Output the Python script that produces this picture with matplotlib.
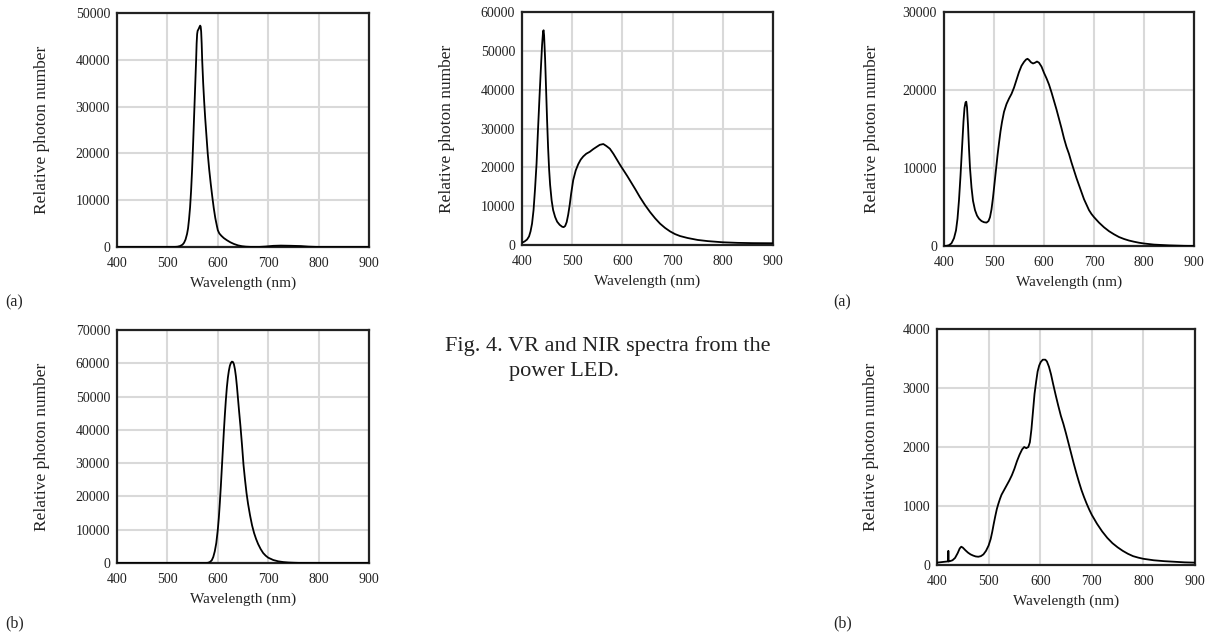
import matplotlib
matplotlib.use("Agg")
import matplotlib.pyplot as plt

plt.rcParams['font.family'] = ['Liberation Serif', 'DejaVu Serif']

# ---- data ----
wl_a1 = [400, 500, 510, 515, 520, 525, 530, 533, 536, 539, 541, 543, 545, 547, 549, 551, 553, 555,
         557, 558, 559, 560, 562, 564, 565, 566, 567, 568, 569, 571, 573, 575, 577, 580, 583, 586,
         589, 592, 595, 598, 600, 603, 607, 612, 618, 625, 632, 640, 648, 656, 665, 680, 695, 710,
         725, 745, 765, 780, 800, 900]
y_a1 = [0, 0, 0, 20, 60, 200, 500, 900, 1600, 2800, 4000, 6000, 8500, 12000, 16500, 22000, 28000,
        34000, 40000, 43500, 45500, 46200, 46600, 47100, 47300, 47100, 46000, 43500, 40000, 35000,
        31000, 27500, 24500, 20000, 16500, 13500, 10800, 8300, 6200, 4600, 3600, 2900, 2400, 1900,
        1450, 1000, 650, 350, 170, 70, 20, 0, 100, 250, 300, 260, 200, 80, 0, 0]

wl_w1 = [400, 405, 410, 414, 417, 420, 423, 426, 429, 432, 435, 438, 440, 442, 443, 444, 446, 448,
         450, 452, 454, 456, 459, 462, 466, 470, 475, 480, 483, 486, 489, 492, 495, 498, 502, 507,
         512, 517, 522, 528, 535, 542, 549, 555, 562, 568, 575, 582, 589, 595, 602, 610, 618, 626,
         635, 645, 655, 665, 675, 685, 695, 705, 715, 730, 750, 770, 800, 830, 860, 900]
y_w1 = [600, 900, 1400, 2200, 3500, 5500, 9000, 14500, 21000, 30000, 38500, 46500, 51500, 55000,
        55300, 54000, 48000, 40000, 32000, 25000, 19500, 15500, 11500, 9000, 7200, 6000, 5200, 4700,
        4600, 4900, 5900, 7800, 10300, 13300, 16700, 19200, 20800, 22000, 22800, 23500, 24000,
        24700, 25300, 25800, 26000, 25500, 24800, 23500, 22000, 20700, 19300, 17700, 16000, 14300,
        12300, 10300, 8500, 6900, 5500, 4400, 3500, 2800, 2300, 1800, 1300, 1000, 700, 550, 480, 450]

wl_w2 = [400, 405, 410, 415, 420, 424, 427, 430, 433, 436, 439, 441, 443, 444.5, 446, 448, 450,
         452, 455, 458, 462, 466, 470, 475, 480, 485, 489, 492, 495, 498, 501, 504, 507, 510, 513,
         516, 520, 525, 530, 535, 540, 545, 550, 555, 560, 564, 567, 570, 574, 578, 582, 586, 590,
         595, 600, 605, 610, 615, 620, 625, 630, 635, 640, 645, 650, 655, 660, 665, 670, 675, 680,
         685, 690, 695, 700, 710, 720, 730, 740, 750, 760, 770, 780, 790, 800, 820, 850, 880, 900]
y_w2 = [0, 20, 100, 350, 1000, 2000, 3500, 5900, 9000, 12500, 16000, 17700, 18400, 18500, 17800,
        15500, 12500, 10000, 7500, 5800, 4600, 3900, 3500, 3200, 3050, 3000, 3200, 3700, 4700, 6200,
        8000, 9800, 11600, 13200, 14700, 15900, 17200, 18200, 18900, 19500, 20300, 21300, 22300,
        23100, 23600, 23900, 24000, 23850, 23550, 23400, 23500, 23650, 23500, 23000, 22200, 21500,
        20700, 19700, 18600, 17500, 16300, 15100, 13800, 12700, 11800, 10700, 9700, 8700, 7800,
        6900, 6000, 5300, 4600, 4100, 3700, 3000, 2400, 1900, 1500, 1150, 900, 700, 550, 420, 320,
        180, 80, 20, 0]

wl_r1 = [400, 575, 580, 584, 588, 591, 594, 597, 600, 602, 604, 606, 608, 610, 612, 614, 616, 618,
         620, 622, 624, 626, 628, 630, 632, 634, 636, 638, 640, 642, 645, 648, 651, 654, 657, 660,
         664, 668, 672, 676, 680, 685, 690, 695, 700, 710, 720, 730, 740, 750, 760, 780, 900]
y_r1 = [0, 0, 50, 250, 800, 1800, 3500, 6000, 10000, 13500, 18000, 23000, 28500, 34000, 39500,
        44500, 49000, 52800, 55700, 57800, 59300, 60100, 60500, 60400, 59700, 58200, 56000, 53000,
        49500, 46000, 41000, 35500, 29500, 25000, 21000, 17800, 14300, 11300, 9000, 7200, 5700,
        4200, 3000, 2200, 1600, 900, 500, 280, 150, 80, 30, 0, 0]

wl_r2 = [400, 405, 410, 415, 420, 421.5, 422, 422.5, 425, 430, 435, 440, 444, 447, 450, 455, 460,
         465, 470, 475, 480, 485, 490, 495, 500, 504, 507, 510, 513, 516, 519, 522, 525, 530, 535,
         540, 545, 550, 555, 560, 565, 569, 573, 577, 580, 583, 586, 589, 592, 595, 598, 601, 605,
         610, 613, 617, 621, 625, 630, 635, 640, 645, 650, 655, 660, 665, 670, 675, 680, 685, 690,
         695, 700, 710, 720, 730, 740, 750, 760, 770, 780, 790, 800, 820, 840, 860, 880, 900]
y_r2 = [40, 45, 50, 55, 60, 60, 240, 60, 65, 80, 120, 200, 280, 310, 295, 250, 210, 180, 160, 145,
        140, 150, 180, 240, 330, 440, 560, 700, 830, 950, 1040, 1120, 1190, 1270, 1350, 1430, 1520,
        1630, 1760, 1870, 1960, 2000, 1980, 2000, 2080, 2300, 2600, 2900, 3100, 3280, 3380, 3440,
        3480, 3480, 3450, 3360, 3230, 3070, 2880, 2700, 2530, 2390, 2230, 2060, 1890, 1720, 1560,
        1410, 1270, 1150, 1040, 940, 850, 700, 570, 460, 370, 300, 240, 190, 150, 125, 105, 80, 65,
        55, 45, 40]

xticks = [400, 500, 600, 700, 800, 900]

W, H = 1211, 632
fig = plt.figure(figsize=(W / 100, H / 100), dpi=100)
INK = '#222222'


def px_axes(x0, y0, x1, y1):
    return fig.add_axes([x0 / W, 1 - y1 / H, (x1 - x0) / W, (y1 - y0) / H])


def style(ax, wl, y, ymax, ystep, ylab_x):
    ax.plot(wl, y, color='black', lw=1.3, zorder=3, solid_joinstyle='round')
    ax.set_xlim(400, 900)
    ax.set_ylim(0, ymax)
    ax.set_xticks(xticks)
    ax.set_yticks(range(0, ymax + 1, ystep))
    ax.grid(True, color='#d9d9d9', lw=1.5, zorder=0)
    ax.set_axisbelow(True)
    for s in ax.spines.values():
        s.set_linewidth(1.6)
        s.set_color(INK)
    ax.tick_params(axis='both', length=0, labelsize=10, colors=INK)
    ax.tick_params(axis='x', pad=7)
    ax.tick_params(axis='y', pad=5)
    ax.set_xlabel('Wavelength (nm)', fontsize=11, labelpad=5, color=INK)
    ax.set_ylabel('Relative photon number', fontsize=12.5, color=INK)
    ax.yaxis.set_label_coords(ylab_x, 0.5)


ax1 = px_axes(117, 13, 369, 247)
style(ax1, wl_a1, y_a1, 50000, 10000, -0.266)

ax2 = px_axes(522, 12, 773, 245)
style(ax2, wl_w1, y_w1, 60000, 10000, -0.267)

ax3 = px_axes(944, 12, 1194, 246)
style(ax3, wl_w2, y_w2, 30000, 10000, -0.256)

ax4 = px_axes(117, 330, 369, 563)
style(ax4, wl_r1, y_r1, 70000, 10000, -0.266)

ax5 = px_axes(937, 329, 1195, 565)
style(ax5, wl_r2, y_r2, 4000, 1000, -0.225)

# panel letters
for (x, y, t) in [(5, 302, '(a)'), (833, 302, '(a)'), (5, 623, '(b)'), (833, 623, '(b)')]:
    fig.text(x / W, 1 - y / H, t, fontsize=11.5, va='center', ha='left', color=INK)

# caption
fig.text(445 / W, 1 - 351 / H, 'Fig. 4. VR and NIR spectra from the', fontsize=16,
         va='baseline', ha='left', color=INK)
fig.text(509 / W, 1 - 376 / H, 'power LED.', fontsize=16, va='baseline', ha='left', color=INK)

fig.savefig('out.png', dpi=100)
